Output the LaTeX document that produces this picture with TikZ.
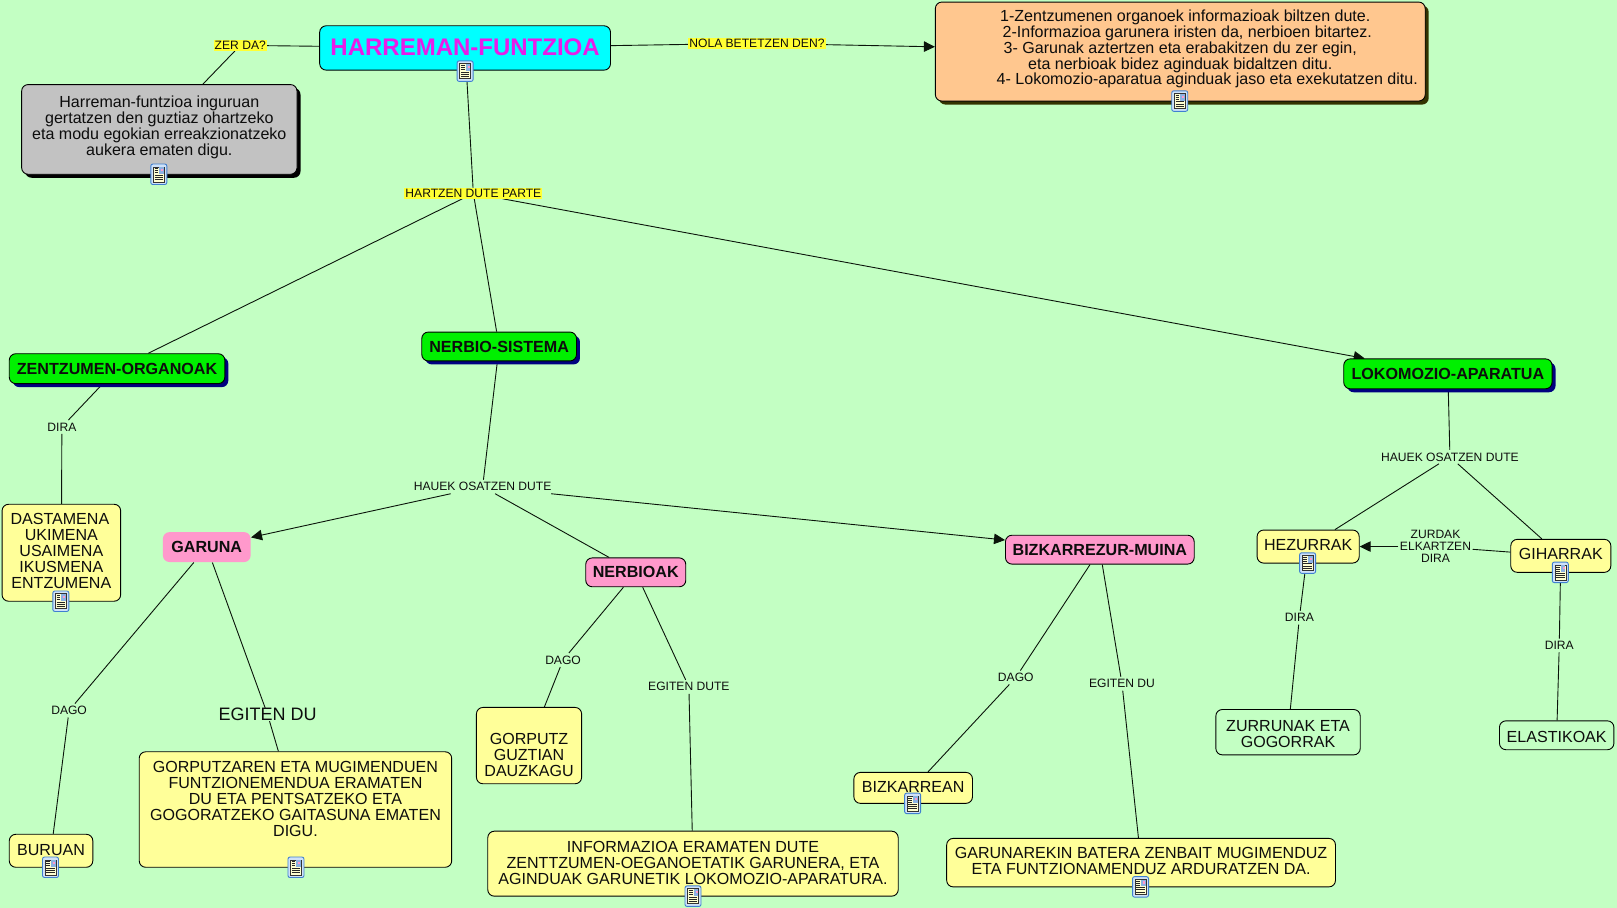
\documentclass[tikz,border=0pt]{standalone}
\usepackage{fontspec}
\setmainfont{Liberation Sans}
\usetikzlibrary{arrows.meta,shadows}
\pgfdeclarelayer{edges}
\pgfsetlayers{edges,main}
\definecolor{bgc}{HTML}{C3FFC3}
\definecolor{ycol}{HTML}{FFFF99}
\definecolor{pinkc}{HTML}{FF99CC}
\definecolor{greenc}{HTML}{00F000}
\definecolor{orangec}{HTML}{FFC78F}
\definecolor{greyc}{HTML}{C2C2C2}
\definecolor{magc}{HTML}{E81CE8}
\definecolor{cyanc}{HTML}{00FFFF}
\definecolor{labely}{HTML}{FFFF33}
\definecolor{navyc}{HTML}{000080}
\definecolor{oshadow}{HTML}{333300}
\definecolor{iconb}{HTML}{3F7FD0}
\definecolor{iconf}{HTML}{CFE2F8}
\definecolor{linec}{HTML}{0A140A}
\newcommand\dn[1]{\rule[-#1]{0pt}{0pt}}
\newcommand\fsz[2]{\fontsize{#1}{#2}\selectfont}
\newcommand\cbox[7]{%
  \pgfmathsetmacro\bw{(#5-#3)*1.03125}%
  \pgfmathsetmacro\bh{(#6-#4)*1.03125}%
  \node[#1,minimum width=\bw pt,minimum height=\bh pt] (#2) at ({(#3+#5)/2},{(#4+#6)/2}) {#7};}
\newcommand\docicon[3]{%
  \node[iconbox] (#1) at (#2,#3) {};
  \begin{scope}[shift={(#1.center)},x=1pt,y=1pt]
    \filldraw[fill=ycol!45!white,draw=black!80,line width=.5pt] (-5.5,-7.5) rectangle (5.5,7.5);
    \fill[iconb!60!white] (.5,.5) rectangle (5,7);
    \fill[pinkc] (2.5,3) rectangle (4.5,5.5);
    \foreach \yy in {5.5,3.5,1.5}{\draw[black!85,line width=.6pt] (-4.2,\yy) -- (-.5,\yy);}
    \foreach \yy in {-.7,-2.9,-5.1}{\draw[black!85,line width=.6pt] (-4.2,\yy) -- (4.2,\yy);}
  \end{scope}}
\tikzset{
  x=1.03125pt,y=-1.03125pt,
  boxbase/.style={rounded corners=6.5pt,inner sep=0pt,align=center,font=\fsz{16.05}{15.9},text=black!95,line width=.9pt},
  yellowbox/.style={boxbase,draw=black,fill=ycol},
  plainbox/.style={boxbase,draw=black,fill=bgc},
  pinkbox/.style={boxbase,draw=black,fill=pinkc,font=\fsz{16.1}{16}\bfseries},
  pinknb/.style={boxbase,fill=pinkc,font=\fsz{16.1}{16}\bfseries},
  greenbox/.style={boxbase,draw=black,fill=greenc,font=\fsz{16.1}{16}\bfseries,general shadow={fill=navyc,shadow xshift=3.5pt,shadow yshift=-3.5pt}},
  mainbox/.style={boxbase,draw=black,fill=cyanc,text=magc,font=\fsz{24}{24}\bfseries},
  greybox/.style={boxbase,draw=black,fill=greyc,general shadow={fill=black,shadow xshift=3.5pt,shadow yshift=-3.5pt}},
  orangebox/.style={boxbase,draw=black,fill=orangec,general shadow={fill=oshadow,shadow xshift=3.5pt,shadow yshift=-3.5pt}},
  linklabel/.style={inner xsep=1.5pt,inner ysep=2.5pt,align=center,font=\fsz{12.1}{12},text=black!95},
  hilabel/.style={linklabel,fill=labely,inner xsep=1pt,inner ysep=1pt},
  biglabel/.style={inner sep=0pt,font=\fsz{18}{18},text=black!95},
  iconbox/.style={draw=iconb,fill=iconf,line width=.9pt,rounded corners=2pt,minimum width=16pt,minimum height=20.5pt,inner sep=0pt},
  conn/.style={draw=linec,line width=.9pt},
  arr/.style={conn,-{Triangle[length=11pt,width=10.5pt]}},
}
\begin{document}
\begin{tikzpicture}
\useasboundingbox (0,0) rectangle (1568,880.48);
\begin{pgfonlayer}{edges}
\fill[bgc] (0,0) rectangle (1568,880.48);
\end{pgfonlayer}
% boxes
\cbox{mainbox}{main}{310}{25}{592}{68}{\raisebox{2pt}{HARREMAN-FUNTZIOA}}
\cbox{greybox}{grey}{21}{82}{288}{169}{Harreman-funtzioa inguruan\\gertatzen den guztiaz ohartzeko\\eta modu egokian erreakzionatzeko\\aukera ematen digu.\dn{8pt}}
\cbox{orangebox}{orange}{907}{2}{1382}{98}{\hspace*{10pt}1-Zentzumenen organoek informazioak biltzen dute.\\\hspace*{14pt}2-Informazioa garunera iristen da, nerbioen bitartez.\\3- Garunak aztertzen eta erabakitzen du zer egin,\hspace*{4pt}\\eta nerbioak bidez aginduak bidaltzen ditu.\\\hspace*{54pt}4- Lokomozio-aparatua aginduak jaso eta exekutatzen ditu.\dn{8.5pt}}
\cbox{greenbox}{zentz}{9}{343}{218}{372}{ZENTZUMEN-ORGANOAK}
\cbox{greenbox}{nerbio}{409}{322}{559}{350}{NERBIO-SISTEMA}
\cbox{greenbox}{loko}{1303}{348}{1505}{377}{LOKOMOZIO-APARATUA}
\cbox{yellowbox}{dast}{2}{489}{117}{583}{DASTAMENA\hspace*{3pt}\\UKIMENA\\USAIMENA\\IKUSMENA\\ENTZUMENA\dn{4pt}}
\cbox{pinknb}{garuna}{158}{516}{243}{545}{GARUNA}
\cbox{pinkbox}{nerbioak}{568}{541}{665}{569}{NERBIOAK}
\cbox{pinkbox}{bizk}{975}{519}{1158}{547}{BIZKARREZUR-MUINA}
\cbox{yellowbox}{buruan}{9}{809}{90}{841}{BURUAN\dn{2pt}}
\cbox{yellowbox}{gorputzaren}{135}{729}{438}{841}{GORPUTZAREN ETA MUGIMENDUEN\\FUNTZIONEMENDUA ERAMATEN\\DU ETA PENTSATZEKO ETA\\GOGORATZEKO GAITASUNA EMATEN\\DIGU.\dn{21pt}}
\cbox{yellowbox}{gorputz}{462}{686}{564}{760}{\rule{0pt}{30pt}GORPUTZ\\GUZTIAN\\DAUZKAGU}
\cbox{yellowbox}{info}{473}{806}{871}{869}{INFORMAZIOA ERAMATEN DUTE\\ZENTTZUMEN-OEGANOETATIK GARUNERA, ETA\\AGINDUAK GARUNETIK LOKOMOZIO-APARATURA.\dn{2pt}}
\cbox{yellowbox}{bizkarrean}{828}{749}{943}{779}{BIZKARREAN\dn{2.5pt}}
\cbox{yellowbox}{garunarekin}{918}{813}{1295}{860}{GARUNAREKIN BATERA ZENBAIT MUGIMENDUZ\\ETA FUNTZIONAMENDUZ ARDURATZEN DA.\dn{3.5pt}}
\cbox{yellowbox}{hezurrak}{1219}{514}{1318}{546}{HEZURRAK\dn{3pt}}
\cbox{yellowbox}{giharrak}{1465}{523}{1562}{555}{GIHARRAK\dn{3pt}}
\cbox{plainbox}{zurrunak}{1179}{688}{1319}{732}{\rule{0pt}{14pt}ZURRUNAK ETA\\GOGORRAK}
\cbox{plainbox}{elastikoak}{1454}{699}{1565}{727}{\rule{0pt}{14pt}ELASTIKOAK}
% labels
\node[hilabel] (zerda) at (233,44) {ZER DA?};
\node[hilabel] (nola) at (734,42) {NOLA BETETZEN DEN?};
\node[hilabel] (hartzen) at (459,187.5) {HARTZEN DUTE PARTE};
\node[linklabel] (dira1) at (60,414) {DIRA};
\node[linklabel] (hauek1) at (468,472) {HAUEK OSATZEN DUTE};
\node[linklabel] (hauek2) at (1406,443) {HAUEK OSATZEN DUTE};
\node[linklabel] (dago1) at (67,689) {DAGO};
\node[biglabel] (egiten1) at (259.5,693) {EGITEN DU};
\node[linklabel] (dago2) at (546,640) {DAGO};
\node[linklabel] (egiten2) at (668,666) {EGITEN DUTE};
\node[linklabel] (dago3) at (985,657) {DAGO};
\node[linklabel] (egiten3) at (1088,663) {EGITEN DU};
\node[linklabel] (zurdak) at (1392,530) {ZURDAK\\ELKARTZEN\\DIRA};
\node[linklabel] (dira2) at (1260,599) {DIRA};
\node[linklabel] (dira3) at (1512,626) {DIRA};
% icons
\docicon{i1}{451}{69}
\docicon{i2}{154}{169}
\docicon{i3}{1144}{98}
\docicon{i4}{59}{583}
\docicon{i5}{49}{841}
\docicon{i6}{287}{841}
\docicon{i7}{672}{869}
\docicon{i8}{885}{779}
\docicon{i9}{1106}{860}
\docicon{i10}{1268}{546}
\docicon{i11}{1513}{555}
% connectors
\begin{pgfonlayer}{edges}
\draw[conn] (main) -- (zerda);
\draw[conn] (zerda) -- (grey);
\draw[conn] (main) -- (nola);
\draw[arr] (nola) -- (orange);
\draw[conn] (main) -- (hartzen);
\draw[conn] (hartzen) -- (zentz);
\draw[conn] (hartzen) -- (nerbio);
\draw[arr] (hartzen) -- (loko);
\draw[conn] (zentz) -- (dira1);
\draw[conn] (dira1) -- (dast);
\draw[conn] (nerbio) -- (hauek1);
\draw[arr] (hauek1) -- (garuna);
\draw[conn] (hauek1) -- (nerbioak);
\draw[arr] (hauek1) -- (bizk);
\draw[conn] (garuna) -- (dago1);
\draw[conn] (dago1) -- (buruan);
\draw[conn] (garuna) -- (egiten1);
\draw[conn] (egiten1) -- (gorputzaren);
\draw[conn] (nerbioak) -- (dago2);
\draw[conn] (dago2) -- (gorputz);
\draw[conn] (nerbioak) -- (egiten2);
\draw[conn] (egiten2) -- (info);
\draw[conn] (bizk) -- (dago3);
\draw[conn] (dago3) -- (bizkarrean);
\draw[conn] (bizk) -- (egiten3);
\draw[conn] (egiten3) -- (garunarekin);
\draw[conn] (loko) -- (hauek2);
\draw[conn] (hauek2) -- (hezurrak);
\draw[conn] (hauek2) -- (giharrak);
\draw[conn] (giharrak) -- (zurdak);
\draw[arr] (zurdak) -- (hezurrak);
\draw[conn] (hezurrak) -- (dira2);
\draw[conn] (dira2) -- (zurrunak);
\draw[conn] (giharrak) -- (dira3);
\draw[conn] (dira3) -- (elastikoak);
\end{pgfonlayer}
\end{tikzpicture}
\end{document}
